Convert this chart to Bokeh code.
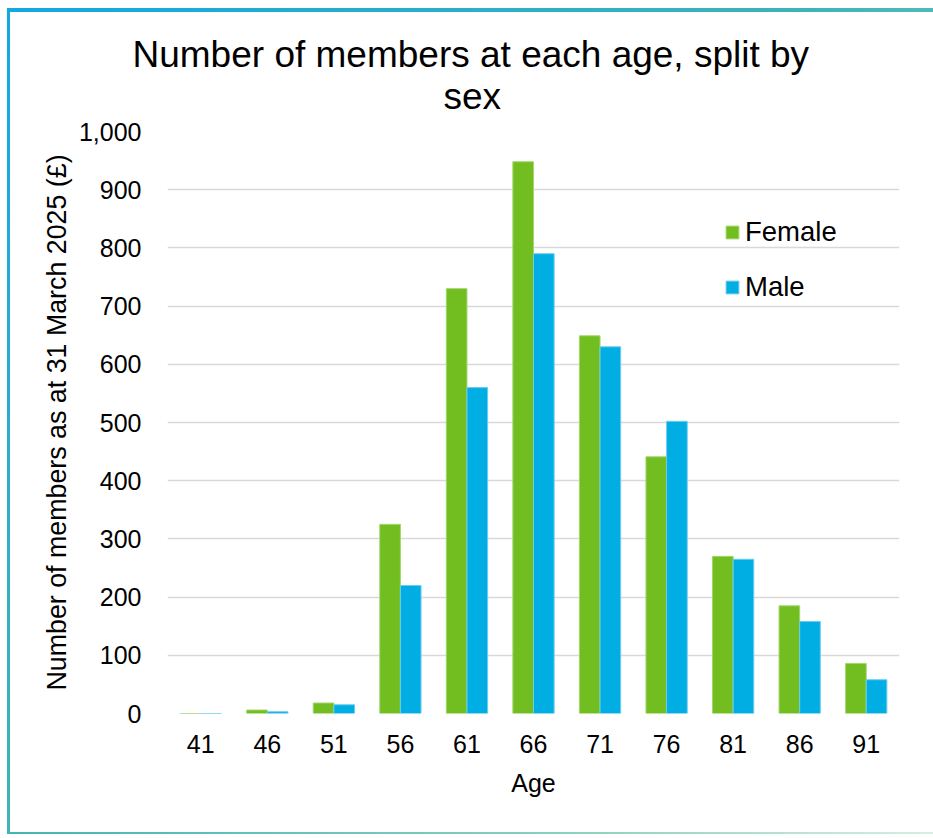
from bokeh.plotting import figure
from bokeh.models import (ColumnDataSource, FactorRange, Range1d, Title, Legend,
                          LegendItem, NumeralTickFormatter, FixedTicker)
from bokeh.transform import dodge
from bokeh.embed import file_html
from bokeh.resources import INLINE

# ---- data ----
ages = ["41", "46", "51", "56", "61", "66", "71", "76", "81", "86", "91"]
female = [0, 6, 18, 325, 730, 948, 649, 441, 270, 185, 86]
male = [0, 3, 15, 220, 560, 790, 630, 502, 265, 158, 58]
y_ticks = [0, 100, 200, 300, 400, 500, 600, 700, 800, 900, 1000]
title_line1 = "Number of members at each age, split by"
title_line2 = "sex"
y_label = "Number of members as at 31 March 2025 (£)"
x_label = "Age"

FONT = "Liberation Sans"
GREEN = "#72BD1F"
GREEN_EDGE = "#A2D66E"
BLUE = "#00AEE4"
BLUE_EDGE = "#6CCBEE"

src = ColumnDataSource(dict(age=ages, female=female, male=male))

p = figure(
    x_range=FactorRange(*ages, range_padding=0),
    y_range=Range1d(0, 1000),
    width=926, height=826,
    output_backend="svg", toolbar_location=None,
    min_border_left=157, min_border_right=37,
    min_border_top=119, min_border_bottom=125,
    title=None,
)
p.margin = (8, 0, 0, 7)
p.styles = {
    "border-style": "solid",
    "border-width": "4px 0px 2px 3px",
    "border-image": "linear-gradient(135deg, #12A8E0 0%, #3DB3B8 45%, #8FD0C0 80%, #D6EFE0 100%) 1",
}

bw = 0.31
rf = p.vbar(x=dodge("age", -bw / 2, range=p.x_range), top="female", width=bw,
            source=src, fill_color=GREEN, line_color=GREEN_EDGE, line_width=1)
rm = p.vbar(x=dodge("age", bw / 2, range=p.x_range), top="male", width=bw,
            source=src, fill_color=BLUE, line_color=BLUE_EDGE, line_width=1)

# titles (added bottom-most first)
t2 = Title(text=title_line2, align="left", offset=276, text_font=FONT,
           text_font_size="37px", text_font_style="normal", text_color="#000000",
           standoff=30)
p.add_layout(t2, "above")
t1 = Title(text=title_line1, align="left", offset=-35, text_font=FONT,
           text_font_size="37px", text_font_style="normal", text_color="#000000",
           standoff=-32)
p.add_layout(t1, "above")

# axes
p.yaxis.ticker = FixedTicker(ticks=y_ticks)
p.yaxis.formatter = NumeralTickFormatter(format="0,0")
for ax in (p.xaxis[0], p.yaxis[0]):
    ax.axis_line_color = None
    ax.major_tick_line_color = None
    ax.minor_tick_line_color = None
    ax.major_label_text_font = FONT
    ax.major_label_text_font_size = "25px"
    ax.major_label_text_color = "#000000"
    ax.axis_label_text_font = FONT
    ax.axis_label_text_font_style = "normal"
    ax.axis_label_text_color = "#000000"
p.yaxis.axis_label = y_label
p.yaxis.axis_label_text_font_size = "26.8px"
p.yaxis.major_label_standoff = 20
p.yaxis.axis_label_standoff = 4
p.xaxis.axis_label = x_label
p.xaxis.axis_label_text_font_size = "25px"
p.xaxis.major_label_standoff = 15
p.xaxis.axis_label_standoff = 13
p.xaxis.group_text_font_size = "0px"

p.xgrid.grid_line_color = None
p.ygrid.grid_line_color = "#D9D9D9"
p.ygrid.grid_line_width = 1.6
p.outline_line_color = None

legend = Legend(items=[LegendItem(label="Female", renderers=[rf]),
                       LegendItem(label="Male", renderers=[rm])],
                location=(557, 410), orientation="vertical",
                label_text_font=FONT, label_text_font_size="27.5px",
                label_text_color="#000000",
                glyph_width=16, glyph_height=16, label_standoff=5,
                spacing=23, padding=0, margin=0,
                border_line_color=None, background_fill_alpha=0)
p.add_layout(legend, "center")

open("out.html", "w").write(file_html(p, INLINE))
